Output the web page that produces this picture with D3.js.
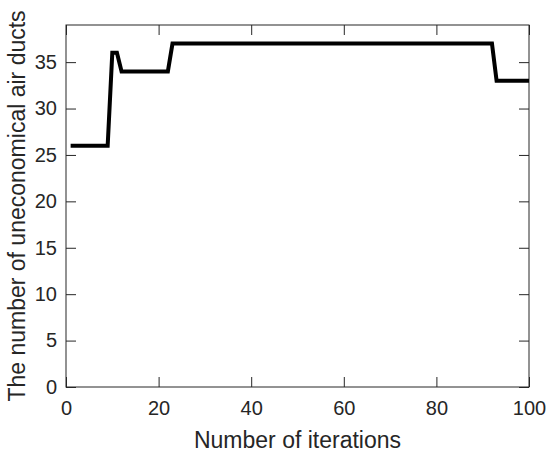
<!DOCTYPE html>
<html><head><meta charset="utf-8">
<script src="https://cdn.jsdelivr.net/npm/d3@7"></script>
<style>body{margin:0;background:#fff}svg{display:block}</style>
</head><body>
<svg id="c" width="550" height="455"></svg>
<script>
const iterations = [1, 9, 10, 11, 12, 22, 23, 92, 93, 100];
const ducts      = [26, 26, 36, 36, 34, 34, 37, 37, 33, 33];
const xTicks = [0, 20, 40, 60, 80, 100];
const yTicks = [0, 5, 10, 15, 20, 25, 30, 35];

const svg = d3.select("#c");
const L = 66, R = 529, T = 25, B = 387;
const x = d3.scaleLinear().domain([0, 100]).range([L, R]);
const y = d3.scaleLinear().domain([0, 39]).range([B, T]);
const font = "Liberation Sans, Arial, sans-serif";
const axCol = "#262626";

function style(g){
  g.selectAll(".domain").remove();
  g.selectAll("line").attr("stroke", axCol).attr("stroke-width", 1);
  g.selectAll("text").attr("fill", axCol).attr("font-family", font).attr("font-size", 20);
}
svg.append("g").attr("transform", `translate(0,${B})`)
  .call(d3.axisBottom(x).tickValues(xTicks).tickSizeInner(-10).tickSizeOuter(0).tickPadding(14))
  .call(style);
svg.append("g").attr("transform", `translate(${L},0)`)
  .call(d3.axisLeft(y).tickValues(yTicks).tickSizeInner(-10).tickSizeOuter(0).tickPadding(9))
  .call(style);
svg.append("g").attr("transform", `translate(0,${T})`)
  .call(d3.axisTop(x).tickValues(xTicks).tickSizeInner(-10).tickSizeOuter(0).tickFormat(""))
  .call(style);
svg.append("g").attr("transform", `translate(${R},0)`)
  .call(d3.axisRight(y).tickValues(yTicks).tickSizeInner(-10).tickSizeOuter(0).tickFormat(""))
  .call(style);

svg.append("rect").attr("x", L).attr("y", T).attr("width", R - L).attr("height", B - T)
  .attr("fill", "none").attr("stroke", axCol).attr("stroke-width", 1);

const pts = iterations.map((d, i) => [d, ducts[i]]);
svg.append("path").datum(pts)
  .attr("d", d3.line().x(d => x(d[0])).y(d => y(d[1])))
  .attr("fill", "none").attr("stroke", "#000").attr("stroke-width", 4).attr("stroke-linejoin", "miter");

svg.append("text").attr("x", (L + R) / 2).attr("y", 448).attr("text-anchor", "middle")
  .attr("font-family", font).attr("font-size", 23).attr("fill", axCol).text("Number of iterations");
svg.append("text").attr("transform", `translate(25,${(T + B) / 2}) rotate(-90)`).attr("text-anchor", "middle")
  .attr("font-family", font).attr("font-size", 23).attr("fill", axCol).text("The number of uneconomical air ducts");
</script>
</body></html>
